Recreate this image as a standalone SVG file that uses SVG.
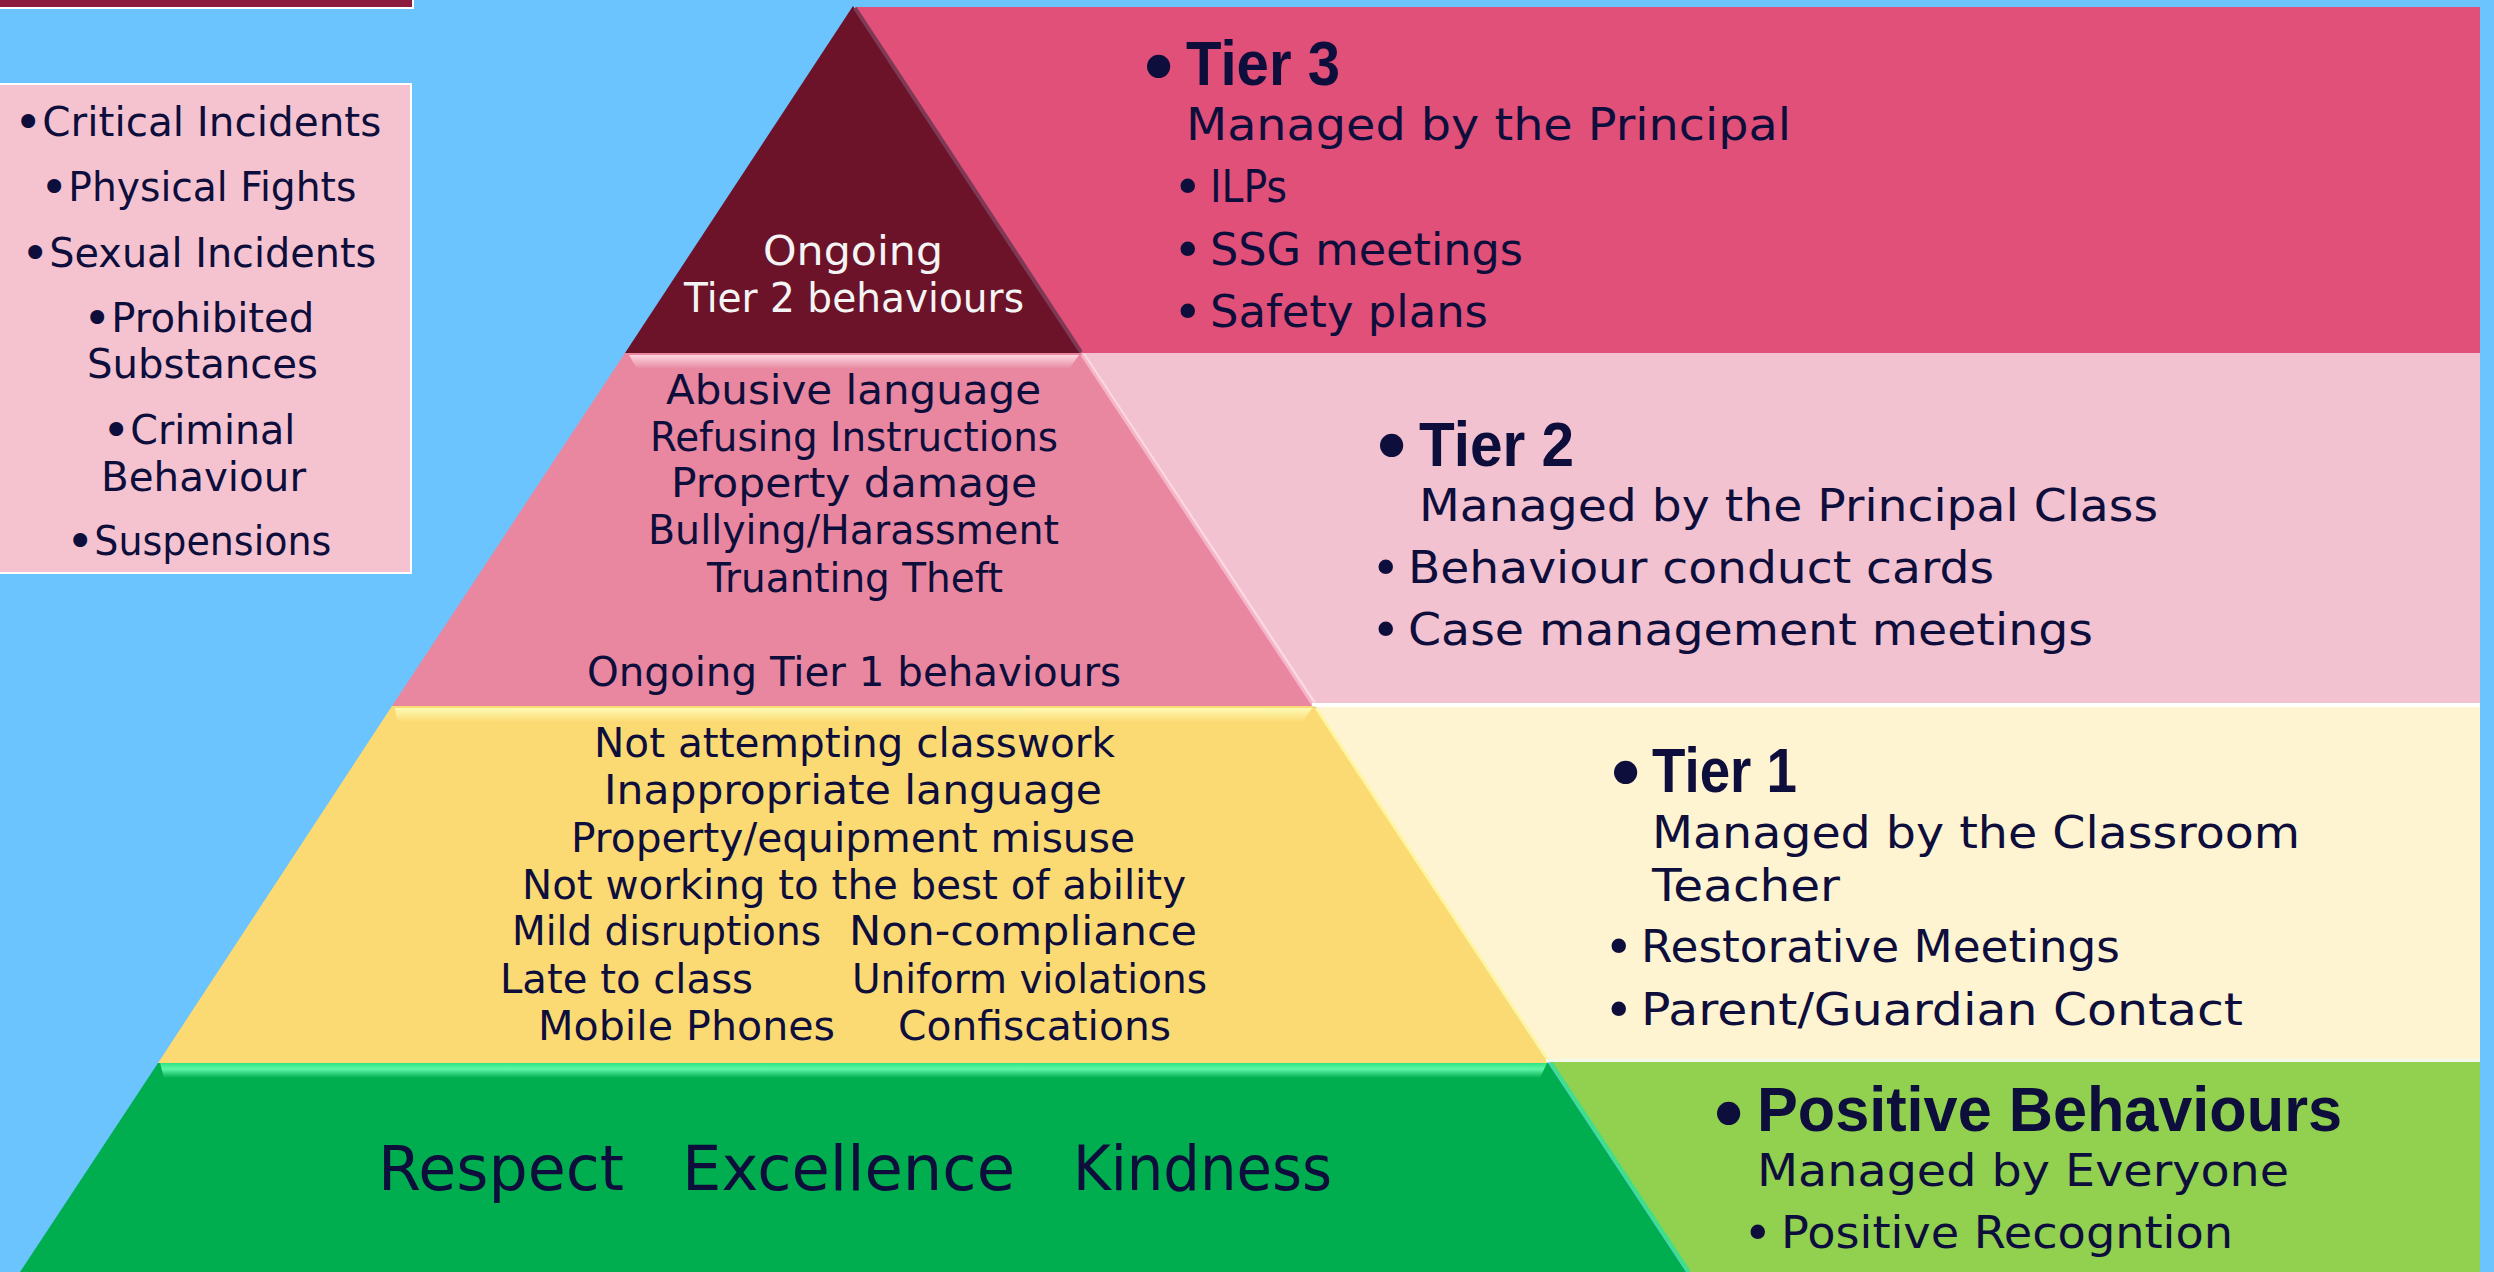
<svg xmlns="http://www.w3.org/2000/svg" width="2494" height="1272" viewBox="0 0 2494 1272">
<style>
.t{font-family:"DejaVu Sans","Liberation Sans",sans-serif;fill:#0E0E3C}
.b{font-family:"Liberation Sans","DejaVu Sans",sans-serif;font-weight:bold;fill:#0E0E3C}
.w{fill:#F4F4F4}
.s40{font-size:40px}
.s45{font-size:45px}
.s63{font-size:63px}
.bul{font-family:"DejaVu Sans",sans-serif;font-weight:normal;fill:#0E0E3C}
.bh{font-size:80px}
.bs{font-size:50px}
.bl{font-size:48px}
</style>
<defs>
<linearGradient id="gPink" x1="0" y1="0" x2="0" y2="1"><stop offset="0" stop-color="#FCD6E1"/><stop offset="1" stop-color="#E8879F"/></linearGradient>
<linearGradient id="gYel" x1="0" y1="0" x2="0" y2="1"><stop offset="0" stop-color="#FFFBB5"/><stop offset="1" stop-color="#FBDA74"/></linearGradient>
<linearGradient id="gGrn" x1="0" y1="0" x2="0" y2="1"><stop offset="0" stop-color="#2EE483"/><stop offset="0.4" stop-color="#5FF7A8"/><stop offset="1" stop-color="#00AE4F"/></linearGradient>
</defs>
<rect x="0" y="0" width="2494" height="1272" fill="#6BC4FE"/>
<g id="top-bar"><rect x="-2" y="-4" width="415" height="12" fill="#8D1B3D" stroke="#FFFFFF" stroke-width="2"/></g>
<g id="left-box">
<rect x="-2" y="84" width="413" height="489" fill="#F5C3D0" stroke="#FFFFFF" stroke-width="2"/>
<text class="t s40" x="14" y="136"><tspan class="bul bl" dy="3">•</tspan><tspan dy="-3" textLength="339" lengthAdjust="spacingAndGlyphs">Critical Incidents</tspan></text>
<text class="t s40" x="40" y="201"><tspan class="bul bl" dy="3">•</tspan><tspan dy="-3" textLength="288" lengthAdjust="spacingAndGlyphs">Physical Fights</tspan></text>
<text class="t s40" x="21" y="267"><tspan class="bul bl" dy="3">•</tspan><tspan dy="-3" textLength="327" lengthAdjust="spacingAndGlyphs">Sexual Incidents</tspan></text>
<text class="t s40" x="83" y="332"><tspan class="bul bl" dy="3">•</tspan><tspan dy="-3" textLength="203" lengthAdjust="spacingAndGlyphs">Prohibited</tspan></text>
<text class="t s40" x="87" y="378" textLength="231" lengthAdjust="spacingAndGlyphs">Substances</text>
<text class="t s40" x="102" y="444"><tspan class="bul bl" dy="3">•</tspan><tspan dy="-3" textLength="165" lengthAdjust="spacingAndGlyphs">Criminal</tspan></text>
<text class="t s40" x="101" y="491" textLength="205" lengthAdjust="spacingAndGlyphs">Behaviour</text>
<text class="t s40" x="66" y="555"><tspan class="bul bl" dy="3">•</tspan><tspan dy="-3" textLength="237" lengthAdjust="spacingAndGlyphs">Suspensions</tspan></text>
</g>
<g id="tier3-panel">
<polygon points="855,7 2480,7 2480,353 1081,353" fill="#E05078"/>
<text class="bul bh" x="1135" y="96">•</text>
<text class="b" x="1186" y="85" font-size="63" textLength="154" lengthAdjust="spacingAndGlyphs">Tier 3</text>
<text class="t s45" x="1186" y="140" textLength="605" lengthAdjust="spacingAndGlyphs">Managed by the Principal</text>
<text class="bul bs" x="1173" y="204">•</text>
<text class="t s45" x="1210" y="202" textLength="77" lengthAdjust="spacingAndGlyphs">ILPs</text>
<text class="bul bs" x="1173" y="267">•</text>
<text class="t s45" x="1210" y="265" textLength="313" lengthAdjust="spacingAndGlyphs">SSG meetings</text>
<text class="bul bs" x="1173" y="329">•</text>
<text class="t s45" x="1210" y="327" textLength="278" lengthAdjust="spacingAndGlyphs">Safety plans</text>
</g>
<g id="tier3-triangle">
<polygon points="853,6 625,353 1081,353" fill="#6C1229"/>
<line x1="855" y1="8" x2="1081" y2="352" stroke="#7E3A55" stroke-width="4"/>
<text class="t w s40" x="763" y="265" textLength="180" lengthAdjust="spacingAndGlyphs">Ongoing</text>
<text class="t w s40" x="684" y="312" textLength="340" lengthAdjust="spacingAndGlyphs">Tier 2 behaviours</text>
</g>
<g id="tier2-panel">
<polygon points="1081,353 2480,353 2480,703 1312,703" fill="#F3C2D0"/>
<line x1="1083" y1="354" x2="1314" y2="703" stroke="#FBD9E3" stroke-width="4"/>
<text class="bul bh" x="1368" y="475">•</text>
<text class="b" x="1419" y="466" font-size="63" textLength="155" lengthAdjust="spacingAndGlyphs">Tier 2</text>
<text class="t s45" x="1419" y="521" textLength="739" lengthAdjust="spacingAndGlyphs">Managed by the Principal Class</text>
<text class="bul bs" x="1371" y="585">•</text>
<text class="t s45" x="1408" y="583" textLength="586" lengthAdjust="spacingAndGlyphs">Behaviour conduct cards</text>
<text class="bul bs" x="1371" y="647">•</text>
<text class="t s45" x="1408" y="645" textLength="685" lengthAdjust="spacingAndGlyphs">Case management meetings</text>
</g>
<g id="tier2-band">
<polygon points="625,353 1081,353 1314,706 392,706" fill="#E8879F"/>
<polygon points="629,355 1079,355 1069,369 637,369" fill="url(#gPink)"/>
<line x1="1082" y1="355" x2="1313" y2="705" stroke="#F6B4C8" stroke-width="3"/>
<text class="t s40" x="666" y="404" textLength="375" lengthAdjust="spacingAndGlyphs">Abusive language</text>
<text class="t s40" x="650" y="451" textLength="408" lengthAdjust="spacingAndGlyphs">Refusing Instructions</text>
<text class="t s40" x="671" y="497" textLength="366" lengthAdjust="spacingAndGlyphs">Property damage</text>
<text class="t s40" x="648" y="544" textLength="411" lengthAdjust="spacingAndGlyphs">Bullying/Harassment</text>
<text class="t s40" x="707" y="592" textLength="296" lengthAdjust="spacingAndGlyphs">Truanting Theft</text>
<text class="t s40" x="587" y="686" textLength="534" lengthAdjust="spacingAndGlyphs">Ongoing Tier 1 behaviours</text>
</g>
<rect x="1312" y="703" width="1168" height="4" fill="#FFFFFF"/>
<g id="tier1-panel">
<polygon points="1316,707 2480,707 2480,1059 1546,1059" fill="#FFF4D1"/>
<text class="bul bh" x="1602" y="802">•</text>
<text class="b" x="1652" y="792" font-size="63" textLength="145" lengthAdjust="spacingAndGlyphs">Tier 1</text>
<text class="t s45" x="1652" y="848" textLength="648" lengthAdjust="spacingAndGlyphs">Managed by the Classroom</text>
<text class="t s45" x="1652" y="901" textLength="188" lengthAdjust="spacingAndGlyphs">Teacher</text>
<text class="bul bs" x="1604" y="964">•</text>
<text class="t s45" x="1641" y="962" textLength="479" lengthAdjust="spacingAndGlyphs">Restorative Meetings</text>
<text class="bul bs" x="1604" y="1027">•</text>
<text class="t s45" x="1641" y="1025" textLength="602" lengthAdjust="spacingAndGlyphs">Parent/Guardian Contact</text>
</g>
<g id="tier1-band">
<polygon points="392,706 1314,706 1548,1063 158,1063" fill="#FBDA74"/>
<polygon points="395,708 1312,708 1303,722 397,722" fill="url(#gYel)"/>
<line x1="1316" y1="708" x2="1549" y2="1062" stroke="#FFF59E" stroke-width="3"/>
<text class="t s40" x="594" y="757" textLength="521" lengthAdjust="spacingAndGlyphs">Not attempting classwork</text>
<text class="t s40" x="604" y="804" textLength="498" lengthAdjust="spacingAndGlyphs">Inappropriate language</text>
<text class="t s40" x="571" y="852" textLength="564" lengthAdjust="spacingAndGlyphs">Property/equipment misuse</text>
<text class="t s40" x="522" y="899" textLength="664" lengthAdjust="spacingAndGlyphs">Not working to the best of ability</text>
<text class="t s40" x="512" y="945" textLength="309" lengthAdjust="spacingAndGlyphs">Mild disruptions</text>
<text class="t s40" x="849" y="945" textLength="348" lengthAdjust="spacingAndGlyphs">Non-compliance</text>
<text class="t s40" x="500" y="993" textLength="253" lengthAdjust="spacingAndGlyphs">Late to class</text>
<text class="t s40" x="852" y="993" textLength="355" lengthAdjust="spacingAndGlyphs">Uniform violations</text>
<text class="t s40" x="538" y="1040" textLength="297" lengthAdjust="spacingAndGlyphs">Mobile Phones</text>
<text class="t s40" x="898" y="1040" textLength="273" lengthAdjust="spacingAndGlyphs">Confiscations</text>
</g>
<rect x="1546" y="1059" width="934" height="3" fill="#F4F8E8"/>
<g id="positive-panel">
<polygon points="1550,1062 2480,1062 2480,1272 1688,1272" fill="#92D050"/>
<line x1="1551" y1="1063" x2="1689" y2="1272" stroke="#3FE08A" stroke-width="4"/>
<text class="bul bh" x="1705" y="1143">•</text>
<text class="b" x="1757" y="1131" font-size="63" textLength="585" lengthAdjust="spacingAndGlyphs">Positive Behaviours</text>
<text class="t s45" x="1757" y="1186" textLength="532" lengthAdjust="spacingAndGlyphs">Managed by Everyone</text>
<text class="bul bs" x="1743" y="1250">•</text>
<text class="t s45" x="1781" y="1248" textLength="452" lengthAdjust="spacingAndGlyphs">Positive Recogntion</text>
</g>
<g id="positive-band">
<polygon points="158,1063 1548,1063 1686,1272 20,1272" fill="#00AE4F"/>
<polygon points="160,1063 1547,1063 1540,1078 164,1078" fill="url(#gGrn)"/>
<text class="t s63" x="378" y="1190" textLength="246" lengthAdjust="spacingAndGlyphs">Respect</text>
<text class="t s63" x="682" y="1190" textLength="333" lengthAdjust="spacingAndGlyphs">Excellence</text>
<text class="t s63" x="1073" y="1190" textLength="259" lengthAdjust="spacingAndGlyphs">Kindness</text>
</g>
<g id="connectors"/>
</svg>
